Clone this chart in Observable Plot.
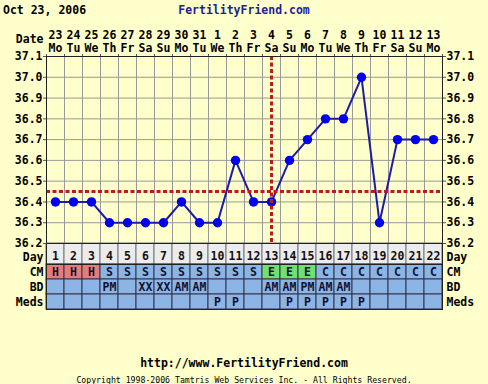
<!DOCTYPE html>
<html><head><meta charset="utf-8">
<script src="https://cdn.jsdelivr.net/npm/d3@7"></script>
<script src="https://cdn.jsdelivr.net/npm/@observablehq/plot@0.6"></script>
<style>
html,body{margin:0;padding:0;background:#ffffcc;}
#root{position:relative;width:488px;height:384px;background:#ffffcc;overflow:hidden;font-family:"DejaVu Sans Mono",monospace;font-weight:bold;font-size:11.5px;color:#000;}
.abs{position:absolute;white-space:nowrap;line-height:1;}
#root svg{position:absolute;left:0;overflow:visible;}
</style></head><body><div id="root"></div>
<script>
// ---- data ----
const days = [1,2,3,4,5,6,7,8,9,10,11,12,13,14,15,16,17,18,19,20,21,22];
const dates = ["23","24","25","26","27","28","29","30","31","1","2","3","4","5","6","7","8","9","10","11","12","13"];
const weekdays = ["Mo","Tu","We","Th","Fr","Sa","Su","Mo","Tu","We","Th","Fr","Sa","Su","Mo","Tu","We","Th","Fr","Sa","Su","Mo"];
const temps = [36.4,36.4,36.4,36.3,36.3,36.3,36.3,36.4,36.3,36.3,36.6,36.4,36.4,36.6,36.7,36.8,36.8,37.0,36.3,36.7,36.7,36.7];
const cm = ["H","H","H","S","S","S","S","S","S","S","S","S","E","E","E","C","C","C","C","C","C","C"];
const bd = ["","","","PM","","XX","XX","AM","AM","","","","AM","AM","PM","AM","AM","","","","",""];
const meds = ["","","","","","","","","","P","P","","","P","P","P","P","P","","","",""];
const yTicks = [36.2,36.3,36.4,36.5,36.6,36.7,36.8,36.9,37.0,37.1];
const rowNames = ["CM","BD","Meds"];
const coverline = 36.45;
const ovulationDay = 13;
const titleDate = "Oct 23, 2006";
const siteName = "FertilityFriend.com";
const url = "http://www.FertilityFriend.com";
const copyright = "Copyright 1998-2006 Tamtris Web Services Inc. - All Rights Reserved.";

// ---- derived tables ----
const rows = days.map((d, i) => ({day: d, temp: temps[i], date: dates[i], wd: weekdays[i]}));
const codes = days.flatMap((d, i) => [
  {day: d, row: "CM", v: cm[i]},
  {day: d, row: "BD", v: bd[i]},
  {day: d, row: "Meds", v: meds[i]}
]);
const boundaries = [0.5, ...days.map(d => d + 0.5)];
const inner = days.slice(1).map(d => d - 0.5);

const root = document.getElementById("root");
const font = {background: "transparent", fontFamily: "DejaVu Sans Mono, monospace", fontSize: "11.5px", fontWeight: "bold", color: "#000", overflow: "visible"};
const ML = 46, MR = 46, W = 488;
const red = "#b81c1c";

function addText(txt, css) {
  const d = document.createElement("div");
  d.className = "abs";
  d.textContent = txt;
  Object.assign(d.style, css);
  root.appendChild(d);
}

// title line
addText(titleDate, {left: "3px", top: "5px"});
addText(siteName, {left: "0px", width: W + "px", textAlign: "center", top: "5px", color: "#1e1e96"});

// main chart
const chart = Plot.plot({
  width: W, height: 244, marginTop: 56, marginBottom: 1, marginLeft: ML, marginRight: MR,
  style: font,
  x: {domain: [0.5, 22.5], axis: null},
  y: {domain: [36.2, 37.1], axis: null},
  marks: [
    Plot.gridY(yTicks.slice(1, -1), {stroke: "#999", strokeOpacity: 1}),
    Plot.gridX(inner, {stroke: "#999", strokeOpacity: 1}),
    Plot.axisX({anchor: "top", ticks: boundaries, tickFormat: () => "", tickSize: 3, stroke: "#555", label: null}),
    Plot.axisX({anchor: "top", ticks: days, tickFormat: d => dates[d - 1], tickSize: 0, tickPadding: 18, label: null}),
    Plot.axisX({anchor: "top", ticks: days, tickFormat: d => weekdays[d - 1], tickSize: 0, tickPadding: 5, label: null}),
    Plot.axisY({anchor: "left", ticks: yTicks, tickFormat: d3.format(".1f"), tickSize: 3, tickPadding: 1, stroke: "#555", label: null}),
    Plot.axisY({anchor: "right", ticks: yTicks, tickFormat: d3.format(".1f"), tickSize: 3, tickPadding: 1, stroke: "#555", label: null}),
    Plot.text(["Date"], {text: d => d, frameAnchor: "top-left", dx: -3, dy: -17, textAnchor: "end", lineAnchor: "middle"}),
    Plot.line(rows, {x: "day", y: "temp", stroke: "#1c1ca8", strokeWidth: 2}),
    Plot.dot(rows, {x: "day", y: "temp", r: 4.7, fill: "#0000ee", stroke: "none"}),
    Plot.ruleY([coverline], {stroke: red, strokeWidth: 3, strokeDasharray: "4,2.5"}),
    Plot.ruleX([ovulationDay], {stroke: red, strokeWidth: 3, strokeDasharray: "4,2.5"}),
    Plot.frame({stroke: "#222"})
  ]
});
chart.style.top = "0px";
root.appendChild(chart);

// day row
const dayRow = Plot.plot({
  width: W, height: 21, marginTop: 0, marginBottom: 0, marginLeft: ML, marginRight: MR,
  style: font,
  x: {type: "band", domain: days, padding: 0, axis: null},
  marks: [
    Plot.cell(rows, {x: "day", fill: "#ececec", stroke: "#777", inset: 0}),
    Plot.text(rows, {x: "day", text: "day", fill: "#111", dy: 2}),
    Plot.text(["Day"], {text: d => d, frameAnchor: "left", dx: -3, dy: 3, textAnchor: "end"}),
    Plot.text(["Day"], {text: d => d, frameAnchor: "right", dx: 4, dy: 3, textAnchor: "start"}),
    Plot.frame({stroke: "#222"})
  ]
});
dayRow.style.top = "243px";
root.appendChild(dayRow);

// code table
const fillFor = d => d.row === "CM" && d.v === "H" ? "#e47c7c" : d.row === "CM" && d.v === "E" ? "#70e070" : "#8cb4e4";
const table = Plot.plot({
  width: W, height: 46, marginTop: 0, marginBottom: 1, marginLeft: ML, marginRight: MR,
  style: font,
  color: {type: "identity"},
  x: {type: "band", domain: days, padding: 0, axis: null},
  y: {type: "band", domain: rowNames, padding: 0, axis: null},
  marks: [
    Plot.cell(codes, {x: "day", y: "row", fill: fillFor, stroke: "#34344c", inset: 0}),
    Plot.text(codes.filter(d => d.v), {x: "day", y: "row", text: "v", fill: "#101030"}),
    Plot.axisY({anchor: "left", tickSize: 0, tickPadding: 3, label: null}),
    Plot.axisY({anchor: "right", tickSize: 0, tickPadding: 4, label: null}),
    Plot.frame({stroke: "#222"})
  ]
});
table.style.top = "264px";
root.appendChild(table);

// footer
addText(url, {left: "0px", width: W + "px", textAlign: "center", top: "358px"});
addText(copyright, {left: "0px", width: W + "px", textAlign: "center", top: "376px", fontSize: "8.2px", fontWeight: "normal"});
</script></body></html>
